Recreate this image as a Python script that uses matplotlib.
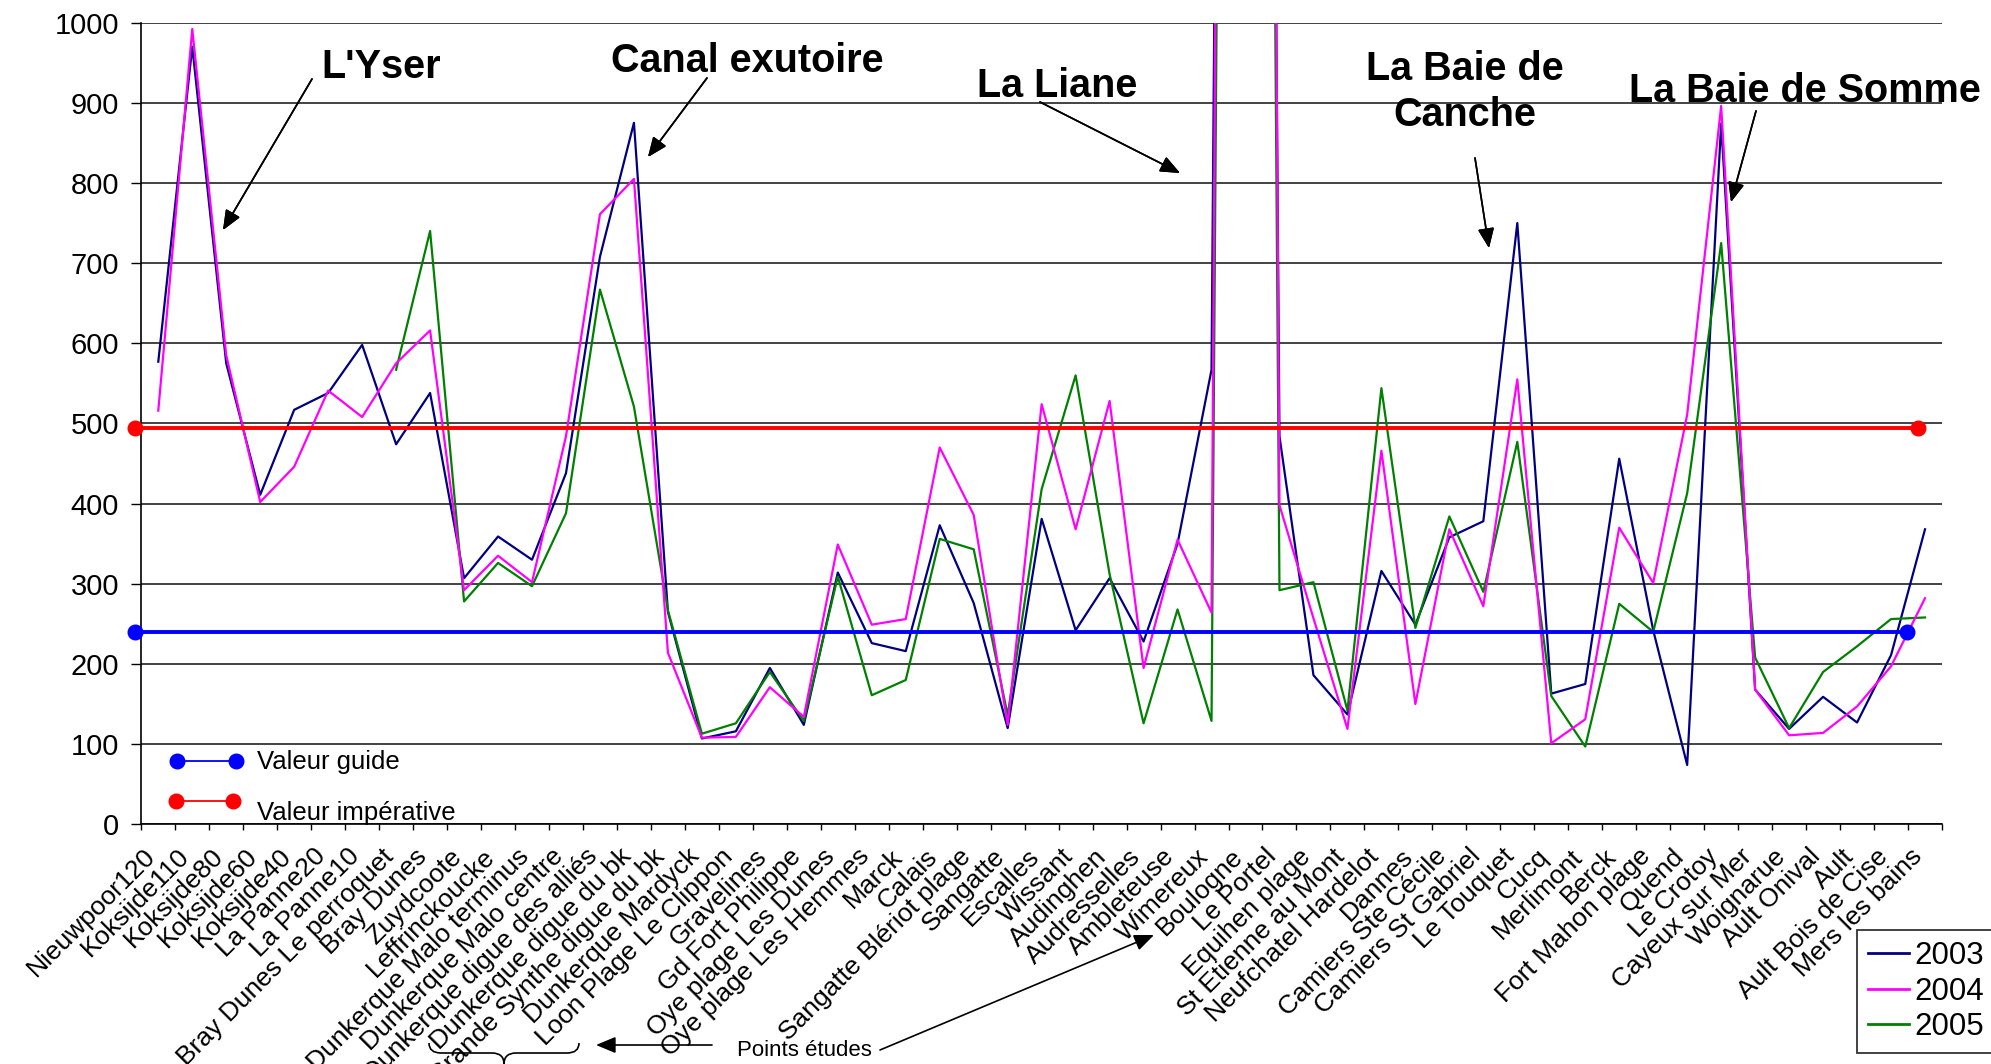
import numpy as np
import matplotlib
matplotlib.use('Agg')
import matplotlib.pyplot as plt
from matplotlib.transforms import ScaledTranslation
from matplotlib.path import Path
from matplotlib.patches import PathPatch
from matplotlib.lines import Line2D

plt.rcParams['font.family'] = ['Liberation Sans', 'DejaVu Sans']

sites = ["Nieuwpoor120", "Koksijde110", "Koksijde80", "Koksijde60", "Koksijde40",
         "La Panne20", "La Panne10", "Bray Dunes Le perroquet", "Bray Dunes", "Zuydcoote",
         "Leffrinckoucke", "Dunkerque Malo terminus", "Dunkerque Malo centre",
         "Dunkerque digue des alliés", "Dunkerque digue du bk", "Grande Synthe digue du bk",
         "Dunkerque Mardyck", "Loon Plage Le Clippon", "Gravelines", "Gd Fort Philippe",
         "Oye plage Les Dunes", "Oye plage Les Hemmes", "Marck", "Calais",
         "Sangatte Blériot plage", "Sangatte", "Escalles", "Wissant", "Audinghen",
         "Audresselles", "Ambleteuse", "Wimereux", "Boulogne", "Le Portel", "Equihen plage",
         "St Etienne au Mont", "Neufchatel Hardelot", "Dannes", "Camiers Ste Cécile",
         "Camiers St Gabriel", "Le Touquet", "Cucq", "Merlimont", "Berck", "Fort Mahon plage",
         "Quend", "Le Crotoy", "Cayeux sur Mer", "Woignarue", "Ault Onival", "Ault",
         "Ault Bois de Cise", "Mers les bains"]

v2003 = [577, 970, 575, 411, 517, 538, 598, 474, 538, 307, 359, 330, 438, 708, 875, 265,
         107, 116, 195, 124, 314, 226, 216, 373, 276, 120, 381, 242, 307, 228, 350, 567,
         6000, 484, 186, 137, 316, 249, 358, 378, 750, 163, 175, 456, 242, 74, 874, 168,
         119, 159, 127, 211, 368]
v2004 = [516, 992, 585, 402, 446, 541, 508, 575, 616, 292, 335, 302, 484, 761, 805, 214,
         108, 109, 171, 134, 349, 249, 256, 470, 386, 124, 524, 368, 528, 195, 355, 264,
         7000, 398, 257, 119, 466, 150, 368, 272, 555, 101, 131, 370, 301, 511, 896, 168,
         111, 114, 147, 197, 282]
v2005 = [None] * 7 + [567, 740, 278, 326, 297, 388, 667, 521, 267,
         113, 126, 190, 129, 309, 161, 180, 356, 343, 136, 418, 560, 312, 126, 268, 129,
         6000, 292, 302, 142, 544, 245, 384, 290, 477, 160, 97, 275, 240, 413, 725, 208,
         120, 190, 222, 256, 258]

guide_value = 240
guide_span = [-0.69, 51.46]
imperative_value = 494
imperative_span = [-0.69, 51.8]

W, H = 1991, 1064


def fp(x, y):
  # pixel position (origin top-left) -> figure fraction
  return x / W, 1 - y / H


fig = plt.figure(figsize=(W / 100, H / 100), dpi=100)
left, top = fp(141.3, 22.6)
right, bottom = fp(1942, 824.3)
ax = fig.add_axes([left, bottom, right - left, top - bottom])

x = np.arange(len(sites))
ax.plot(x, v2003, color='#000080', lw=1.6, label='2003', zorder=3)
ax.plot(x, v2004, color='#FF00FF', lw=1.6, label='2004', zorder=4)
ax.plot(x, np.array(v2005, dtype=float), color='#008000', lw=1.6, label='2005', zorder=3.5)

ax.plot(guide_span, [guide_value] * 2, color='#0000FF', lw=2.8, marker='o', ms=10.5,
        clip_on=False, zorder=5)
ax.plot(imperative_span, [imperative_value] * 2, color='#FF0000', lw=2.8, marker='o', ms=10.5,
        clip_on=False, zorder=5)

ax.set_xlim(-0.5, len(sites) - 0.5)
ax.set_ylim(0, 1000)
ax.set_yticks(np.arange(0, 1001, 100))
ax.yaxis.grid(True, color='#222222', lw=1.2, zorder=0)
ax.set_axisbelow(True)
ax.tick_params(axis='y', direction='out', length=7, width=1, pad=9, labelsize=21)
ax.set_xticks(np.arange(len(sites) + 1) - 0.5)
ax.set_xticklabels([])
ax.tick_params(axis='x', direction='out', length=4.5, width=1)
for s in ['top', 'right']:
  ax.spines[s].set_visible(False)
for s in ['left', 'bottom']:
  ax.spines[s].set_linewidth(1.2)

# rotated site names
lab_tr = ax.get_xaxis_transform() + ScaledTranslation(-0.15, -0.20, fig.dpi_scale_trans)
for i, name in enumerate(sites):
  ax.text(i, 0, name, transform=lab_tr, rotation=45, rotation_mode='anchor',
          ha='right', va='top', fontsize=19)

leg = ax.legend(loc='upper left', bbox_to_anchor=fp(1857, 930), bbox_transform=fig.transFigure,
                borderaxespad=0, fontsize=22.5, frameon=True, fancybox=False, edgecolor='black',
                borderpad=0.35, labelspacing=0.18, handlelength=1.3, handletextpad=0.2)
leg.get_frame().set_linewidth(1.3)
for h in leg.get_lines():
  h.set_linewidth(2)

# reference line legend
for (x0, x1, y, col), txt, ty in [((177, 236, 761, '#0000FF'), 'Valeur guide', 762),
                                  ((176, 233, 801, '#FF0000'), 'Valeur impérative', 813)]:
  p0, p1 = fp(x0, y), fp(x1, y)
  fig.add_artist(Line2D([p0[0], p1[0]], [p0[1], p1[1]], transform=fig.transFigure,
                        color=col, lw=1.3, marker='o', ms=10.5))
  fig.text(*fp(257, ty), txt, fontsize=18.5, ha='left', va='center')

# river annotations
rivers = [("L'Yser", (381, 67), (312, 79), (223, 230)),
          ("Canal exutoire", (747, 61), (707, 78), (648, 157)),
          ("La Liane", (1057, 86), (1040, 102), (1180, 173)),
          ("La Baie de\nCanche", (1465, 92), (1475, 158), (1489, 248)),
          ("La Baie de Somme", (1805, 91), (1756, 111), (1731, 202))]
arrow = dict(arrowstyle='-|>,head_length=1.2,head_width=0.5', color='black', lw=1.2,
             shrinkA=0, shrinkB=0, mutation_scale=10)
for txt, pos, a0, a1 in rivers:
  fig.text(*fp(*pos), txt, fontsize=28.5, fontweight='bold', ha='center', va='center',
           linespacing=1.25)
  fig.add_artist(plt.annotate('', xy=fp(*a1), xytext=fp(*a0), xycoords='figure fraction',
                              textcoords='figure fraction', arrowprops=arrow))

fig.text(*fp(737, 1051), 'Points études', fontsize=16, ha='left', va='center')
plt.annotate('', xy=fp(1154, 935), xytext=fp(880, 1050), xycoords='figure fraction',
             textcoords='figure fraction', arrowprops=arrow)
plt.annotate('', xy=fp(596, 1045), xytext=fp(712, 1045), xycoords='figure fraction',
             textcoords='figure fraction', arrowprops=arrow)

# curly brace under the Dunkerque group
brace_px = [(429, 1043), (429, 1053), (441, 1053), (492, 1053), (504, 1053), (504, 1064),
            (504, 1053), (516, 1053), (567, 1053), (579, 1053), (579, 1043)]
codes = [Path.MOVETO, Path.CURVE3, Path.CURVE3, Path.LINETO, Path.CURVE3, Path.CURVE3,
         Path.CURVE3, Path.CURVE3, Path.LINETO, Path.CURVE3, Path.CURVE3]
brace = Path([fp(*p) for p in brace_px], codes)
fig.add_artist(PathPatch(brace, transform=fig.transFigure, fill=False, lw=1.2, color='black'))

fig.savefig('out.png', dpi=100)
